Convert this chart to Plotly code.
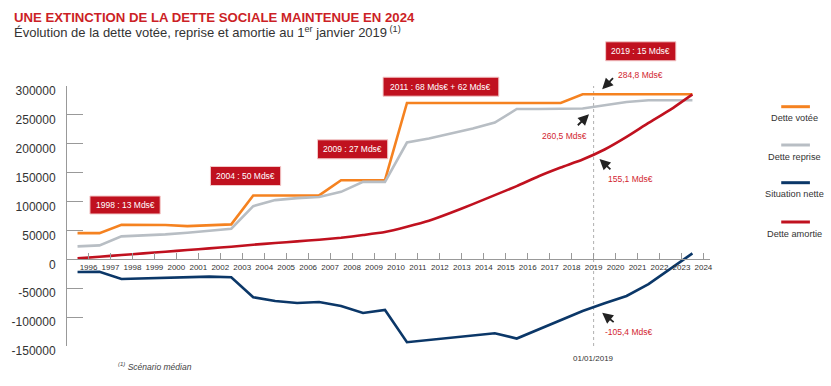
import plotly.graph_objects as go

# ---------------- data ----------------
annees = list(range(1996, 2025))          # tick labels
dette_votee = [45400, 45400, 59800, 59800, 59300, 57500, 59300, 60500,
               110600, 110600, 110600, 110600, 137000, 137000, 137000,
               270600, 270600, 270600, 270600, 270600, 270600, 270600, 270600,
               285600, 285600, 285600, 285600, 285600, 285600]
dette_reprise = [22400, 24200, 39700, 40800, 43200, 46000, 48900, 52900,
                 92000, 102500, 106000, 108000, 116800, 134100, 134100,
                 202200, 209100, 217700, 226300, 236700, 260200, 260200, 260200,
                 261000, 266600, 272300, 275300, 275300, 275300]
situation_nette = [-21900, -21700, -34000, -33000, -32000, -30000, -30000, -31000,
                   -65700, -72000, -75500, -73800, -80700, -92800, -87600,
                   -143400, -139400, -134800, -132000, -127900, -137100, -121000,
                   -104900, -89300, -76000, -63400, -43000, -17000, 10400]
dette_amortie = [1700, 4500, 7400, 10300, 13200, 16100, 19000, 21800,
                 25300, 28200, 31100, 33900, 37400, 42000, 47200,
                 56300, 66700, 80500, 95600, 111100, 126700, 143900, 159000,
                 172800, 190100, 211900, 236100, 259200, 285600]
y_ticks = [-150000, -100000, -50000, 0, 50000, 100000, 150000, 200000, 250000, 300000]
y_tick_labels = [str(v) for v in y_ticks]
series_names = ["Dette votée", "Dette reprise", "Situation nette", "Dette amortie"]
boxes = ["1998 : 13 Mds€", "2004 : 50 Mds€", "2009 : 27 Mds€",
         "2011 : 68 Mds€ + 62 Mds€", "2019 : 15 Mds€"]
callouts = ["284,8 Mds€", "260,5 Mds€", "155,1 Mds€", "-105,4 Mds€"]

# ---------------- styles ----------------
COLORS = ["#f58220", "#b8bec4", "#0b3768", "#c0111f"]
FONT = "Liberation Sans, Arial, Helvetica, sans-serif"
W, H = 831, 386
ML, MR, MT, MB = 60, 121, 86, 40
PW, PH = W - ML - MR, H - MT - MB


def px(x):
    return (x - ML) / PW


def py(y):
    return (H - MB - y) / PH


xs = [a - 0.5 for a in annees]  # points sit between year ticks
series = [dette_votee, dette_reprise, situation_nette, dette_amortie]

fig = go.Figure()
for name, vals, col in zip(series_names, series, COLORS):
    fig.add_trace(go.Scatter(
        x=xs, y=vals, mode="lines", name=name,
        line=dict(color=col, width=2.6,
                  shape="spline" if name == "Dette amortie" else "linear",
                  smoothing=0.5),
        showlegend=False, hoverinfo="skip"))

shapes = []
annotations = []

# vertical dotted reference line 01/01/2019
shapes.append(dict(type="line", xref="x", yref="y", x0=2019, x1=2019,
                   y0=y_ticks[0], y1=y_ticks[-1],
                   line=dict(color="#b0b0b0", width=1, dash="dot"), layer="below"))

# custom legend
leg_line_y = [106.7, 145, 182.7, 222]
for name, col, ly in zip(series_names, COLORS, leg_line_y):
    shapes.append(dict(type="line", xref="paper", yref="paper",
                       x0=px(782), x1=px(811), y0=py(ly), y1=py(ly),
                       line=dict(color=col, width=3)))
    annotations.append(dict(xref="paper", yref="paper", x=px(795), y=py(ly + 11.5),
                            text=name, showarrow=False, xanchor="center", yanchor="middle",
                            font=dict(family=FONT, size=9.2, color="#333")))

# red boxes
box_geo = [(118.7, 205, 71, 18), (240.5, 176, 71, 19), (348.7, 149.3, 71, 19),
           (438, 86.7, 117, 19), (640, 51.3, 71, 19)]
for txt, (cx, cy, bw, bh) in zip(boxes, box_geo):
    shapes.append(dict(type="rect", xref="paper", yref="paper",
                       x0=px(cx - bw / 2), x1=px(cx + bw / 2),
                       y0=py(cy + bh / 2), y1=py(cy - bh / 2),
                       fillcolor="#c0111f", line=dict(color="#f3c9c9", width=1)))
    annotations.append(dict(xref="paper", yref="paper", x=px(cx), y=py(cy),
                            text=txt, showarrow=False, xanchor="center", yanchor="middle",
                            font=dict(family=FONT, size=8.5, color="white")))

# callout texts
call_pos = [(640, 75), (562.8, 135.7), (629.5, 179.3), (628, 332)]
for txt, (cx, cy) in zip(callouts, call_pos):
    annotations.append(dict(xref="paper", yref="paper", x=px(cx), y=py(cy),
                            text=txt, showarrow=False, xanchor="center", yanchor="middle",
                            font=dict(family=FONT, size=8.5, color="#d22630")))

# arrows (tail -> tip, in pixels)
arrows = [((613.3, 76.7), (601, 89.3)), ((575, 126.7), (587.7, 114.3)),
          ((610.7, 170.7), (598.3, 159)), ((614, 323.3), (601, 312.7))]
for (tx, ty), (hx, hy) in arrows:
    annotations.append(dict(xref="paper", yref="paper", x=px(hx), y=py(hy),
                            ax=tx - hx, ay=ty - hy, text="", showarrow=True,
                            arrowhead=2, arrowsize=1.2, arrowwidth=1.8,
                            arrowcolor="#222", standoff=0, startstandoff=0))

# 01/01/2019 label
annotations.append(dict(xref="paper", yref="paper", x=px(592.5), y=py(358),
                        text="01/01/2019", showarrow=False, xanchor="center", yanchor="middle",
                        font=dict(family=FONT, size=8, color="#333")))

# titles
annotations.append(dict(xref="paper", yref="paper", x=px(4), y=py(17),
                        text="<b>UNE EXTINCTION DE LA DETTE SOCIALE MAINTENUE EN 2024</b>",
                        showarrow=False, xanchor="left", yanchor="middle",
                        font=dict(family=FONT, size=13.2, color="#cc1f26")))
annotations.append(dict(xref="paper", yref="paper", x=px(4), y=py(32),
                        text="Évolution de la dette votée, reprise et amortie au 1<sup>er</sup> janvier 2019<sup> (1)</sup>",
                        showarrow=False, xanchor="left", yanchor="middle",
                        font=dict(family=FONT, size=13, color="#333")))
# footnote
annotations.append(dict(xref="paper", yref="paper", x=px(110), y=py(366),
                        text="<i><sup>(1)</sup> Scénario médian</i>",
                        showarrow=False, xanchor="left", yanchor="middle",
                        font=dict(family=FONT, size=8.5, color="#444")))

fig.update_layout(
    width=W, height=H,
    margin=dict(l=ML, r=MR, t=MT, b=MB, pad=0),
    paper_bgcolor="white", plot_bgcolor="white",
    shapes=shapes, annotations=annotations,
    xaxis=dict(range=[1995.02, 2024.3], tickvals=annees, ticktext=[str(a) for a in annees],
               showgrid=False, zeroline=False, showline=True, linecolor="#999", linewidth=1,
               ticks="inside", ticklen=6, tickcolor="#999", tickwidth=1, tickangle=0,
               anchor="free", position=(0 - y_ticks[0]) / (y_ticks[-1] - y_ticks[0]),
               tickfont=dict(family=FONT, size=8, color="#333"), fixedrange=True),
    yaxis=dict(range=[y_ticks[0], y_ticks[-1]], tickvals=y_ticks, ticktext=y_tick_labels,
               showgrid=False, zeroline=False, showline=True, linecolor="#999", linewidth=1,
               ticks="inside", ticklen=16, tickcolor="#999", tickwidth=1.2,
               ticklabelshift=5, ticklabelstandoff=8,
               tickfont=dict(family=FONT, size=12, color="#333"), fixedrange=True),
)

fig.write_html("out.html", config={"displayModeBar": False},
               post_script="document.body.style.margin='0';document.body.style.overflow='hidden';")
